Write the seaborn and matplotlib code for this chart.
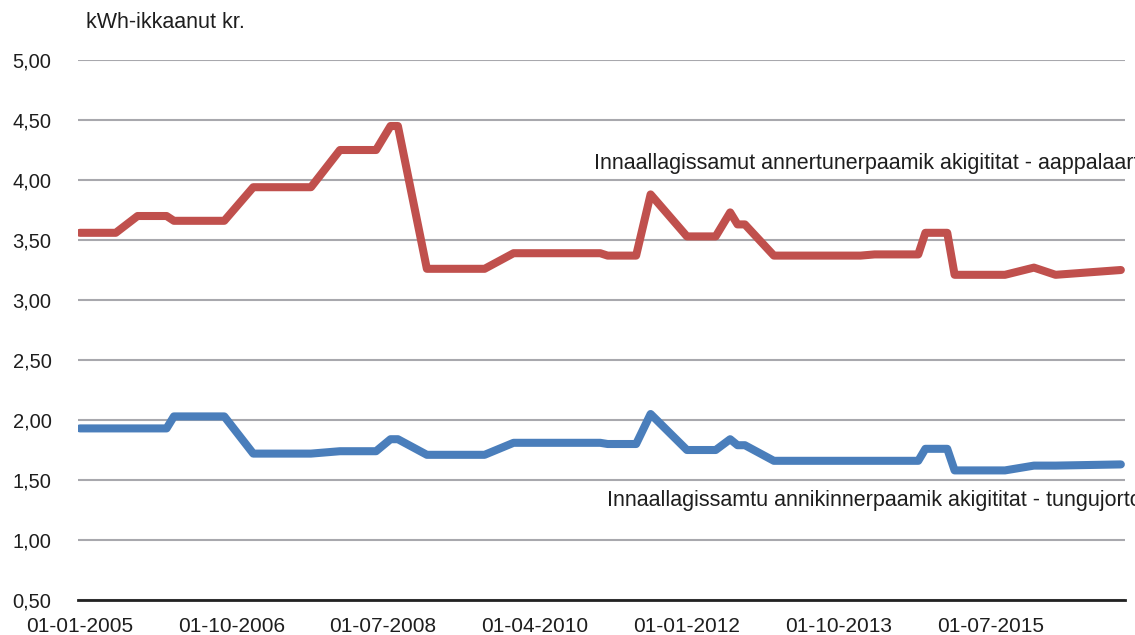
import pandas as pd
import matplotlib
matplotlib.use("Agg")
import matplotlib.pyplot as plt
import seaborn as sns

# hoejeste pris (roed linje)
red_dates = ["2005-01", "2005-06", "2005-09", "2006-01", "2006-02", "2006-09",
             "2007-01", "2007-09", "2008-01", "2008-06", "2008-08", "2008-09",
             "2009-01", "2009-09", "2010-01", "2011-01", "2011-02", "2011-06",
             "2011-08", "2012-01", "2012-05", "2012-07", "2012-08", "2012-09",
             "2013-01", "2014-01", "2014-03", "2014-09", "2014-10", "2015-01",
             "2015-02", "2015-09", "2016-01", "2016-04", "2017-01"]
red_values = [3.56, 3.56, 3.70, 3.70, 3.66, 3.66,
              3.94, 3.94, 4.25, 4.25, 4.45, 4.45,
              3.26, 3.26, 3.39, 3.39, 3.37, 3.37,
              3.88, 3.53, 3.53, 3.73, 3.63, 3.63,
              3.37, 3.37, 3.38, 3.38, 3.56, 3.56,
              3.21, 3.21, 3.27, 3.21, 3.25]

# laveste pris (blaa linje)
blue_dates = ["2005-01", "2006-01", "2006-02", "2006-09", "2007-01", "2007-09",
              "2008-01", "2008-06", "2008-08", "2008-09", "2009-01", "2009-09",
              "2010-01", "2011-01", "2011-02", "2011-06", "2011-08", "2012-01",
              "2012-05", "2012-07", "2012-08", "2012-09", "2013-01", "2014-09",
              "2014-10", "2015-01", "2015-02", "2015-09", "2016-01", "2016-04",
              "2017-01"]
blue_values = [1.93, 1.93, 2.03, 2.03, 1.72, 1.72,
               1.74, 1.74, 1.84, 1.84, 1.71, 1.71,
               1.81, 1.81, 1.80, 1.80, 2.05, 1.75,
               1.75, 1.84, 1.79, 1.79, 1.66, 1.66,
               1.76, 1.76, 1.58, 1.58, 1.62, 1.62,
               1.63]

red_label = "Innaallagissamut annertunerpaamik akigititat - aappalaartoq"
blue_label = "Innaallagissamtu annikinnerpaamik akigititat - tungujortoq"
tick_dates = ["2005-01-01", "2006-10-01", "2008-07-01", "2010-04-01",
              "2012-01-01", "2013-10-01", "2015-07-01"]
tick_labels = ["01-01-2005", "01-10-2006", "01-07-2008", "01-04-2010",
               "01-01-2012", "01-10-2013", "01-07-2015"]
y_ticks = [0.5, 1.0, 1.5, 2.0, 2.5, 3.0, 3.5, 4.0, 4.5, 5.0]

df = pd.concat([
    pd.DataFrame({"dato": pd.to_datetime(red_dates), "pris": red_values, "serie": "hoej"}),
    pd.DataFrame({"dato": pd.to_datetime(blue_dates), "pris": blue_values, "serie": "lav"}),
])

sns.set_theme(style="whitegrid")
plt.rcParams['font.family'] = ['Liberation Sans', 'DejaVu Sans']
txt = "#1E1E1E"

fig = plt.figure(figsize=(11.35, 6.35), dpi=100)
ax = fig.add_axes([0.0687, 0.0551, 0.9224, 0.8504])

sns.lineplot(data=df, x="dato", y="pris", hue="serie",
             palette={"hoej": "#C0504D", "lav": "#4A7EBB"},
             linewidth=5.8, legend=False, ax=ax,
             solid_capstyle="round", solid_joinstyle="round")

ax.set_ylim(0.5, 5.0)
ax.set_yticks(y_ticks)
ax.set_yticklabels([f"{v:.2f}".replace(".", ",") for v in y_ticks])
ax.set_xlim(pd.Timestamp("2004-12-24"), pd.Timestamp("2017-01-18"))
ax.set_xticks(pd.to_datetime(tick_dates))
ax.set_xticklabels(tick_labels)
ax.set_xlabel("")
ax.set_ylabel("")

ax.grid(axis="x", visible=False)
ax.grid(axis="y", color="#A8A8AD", linewidth=1.5)
for s in ["left", "right", "top"]:
    ax.spines[s].set_visible(False)
ax.spines["bottom"].set_color("#222222")
ax.spines["bottom"].set_linewidth(2.0)
ax.tick_params(axis="y", length=0, pad=19, labelsize=14.5, labelcolor=txt)
ax.tick_params(axis="x", length=0, pad=12, labelsize=15, labelcolor=txt)

ax.text(0.493, 0.809, red_label, transform=ax.transAxes, fontsize=15.5,
        color=txt, va="center", ha="left", clip_on=False)
ax.text(0.505, 0.185, blue_label, transform=ax.transAxes, fontsize=15.5,
        color=txt, va="center", ha="left", clip_on=False)
fig.text(0.0758, 0.964, "kWh-ikkaanut kr.", fontsize=15.5, color=txt,
         va="center", ha="left")

fig.savefig("out.png", dpi=100)
